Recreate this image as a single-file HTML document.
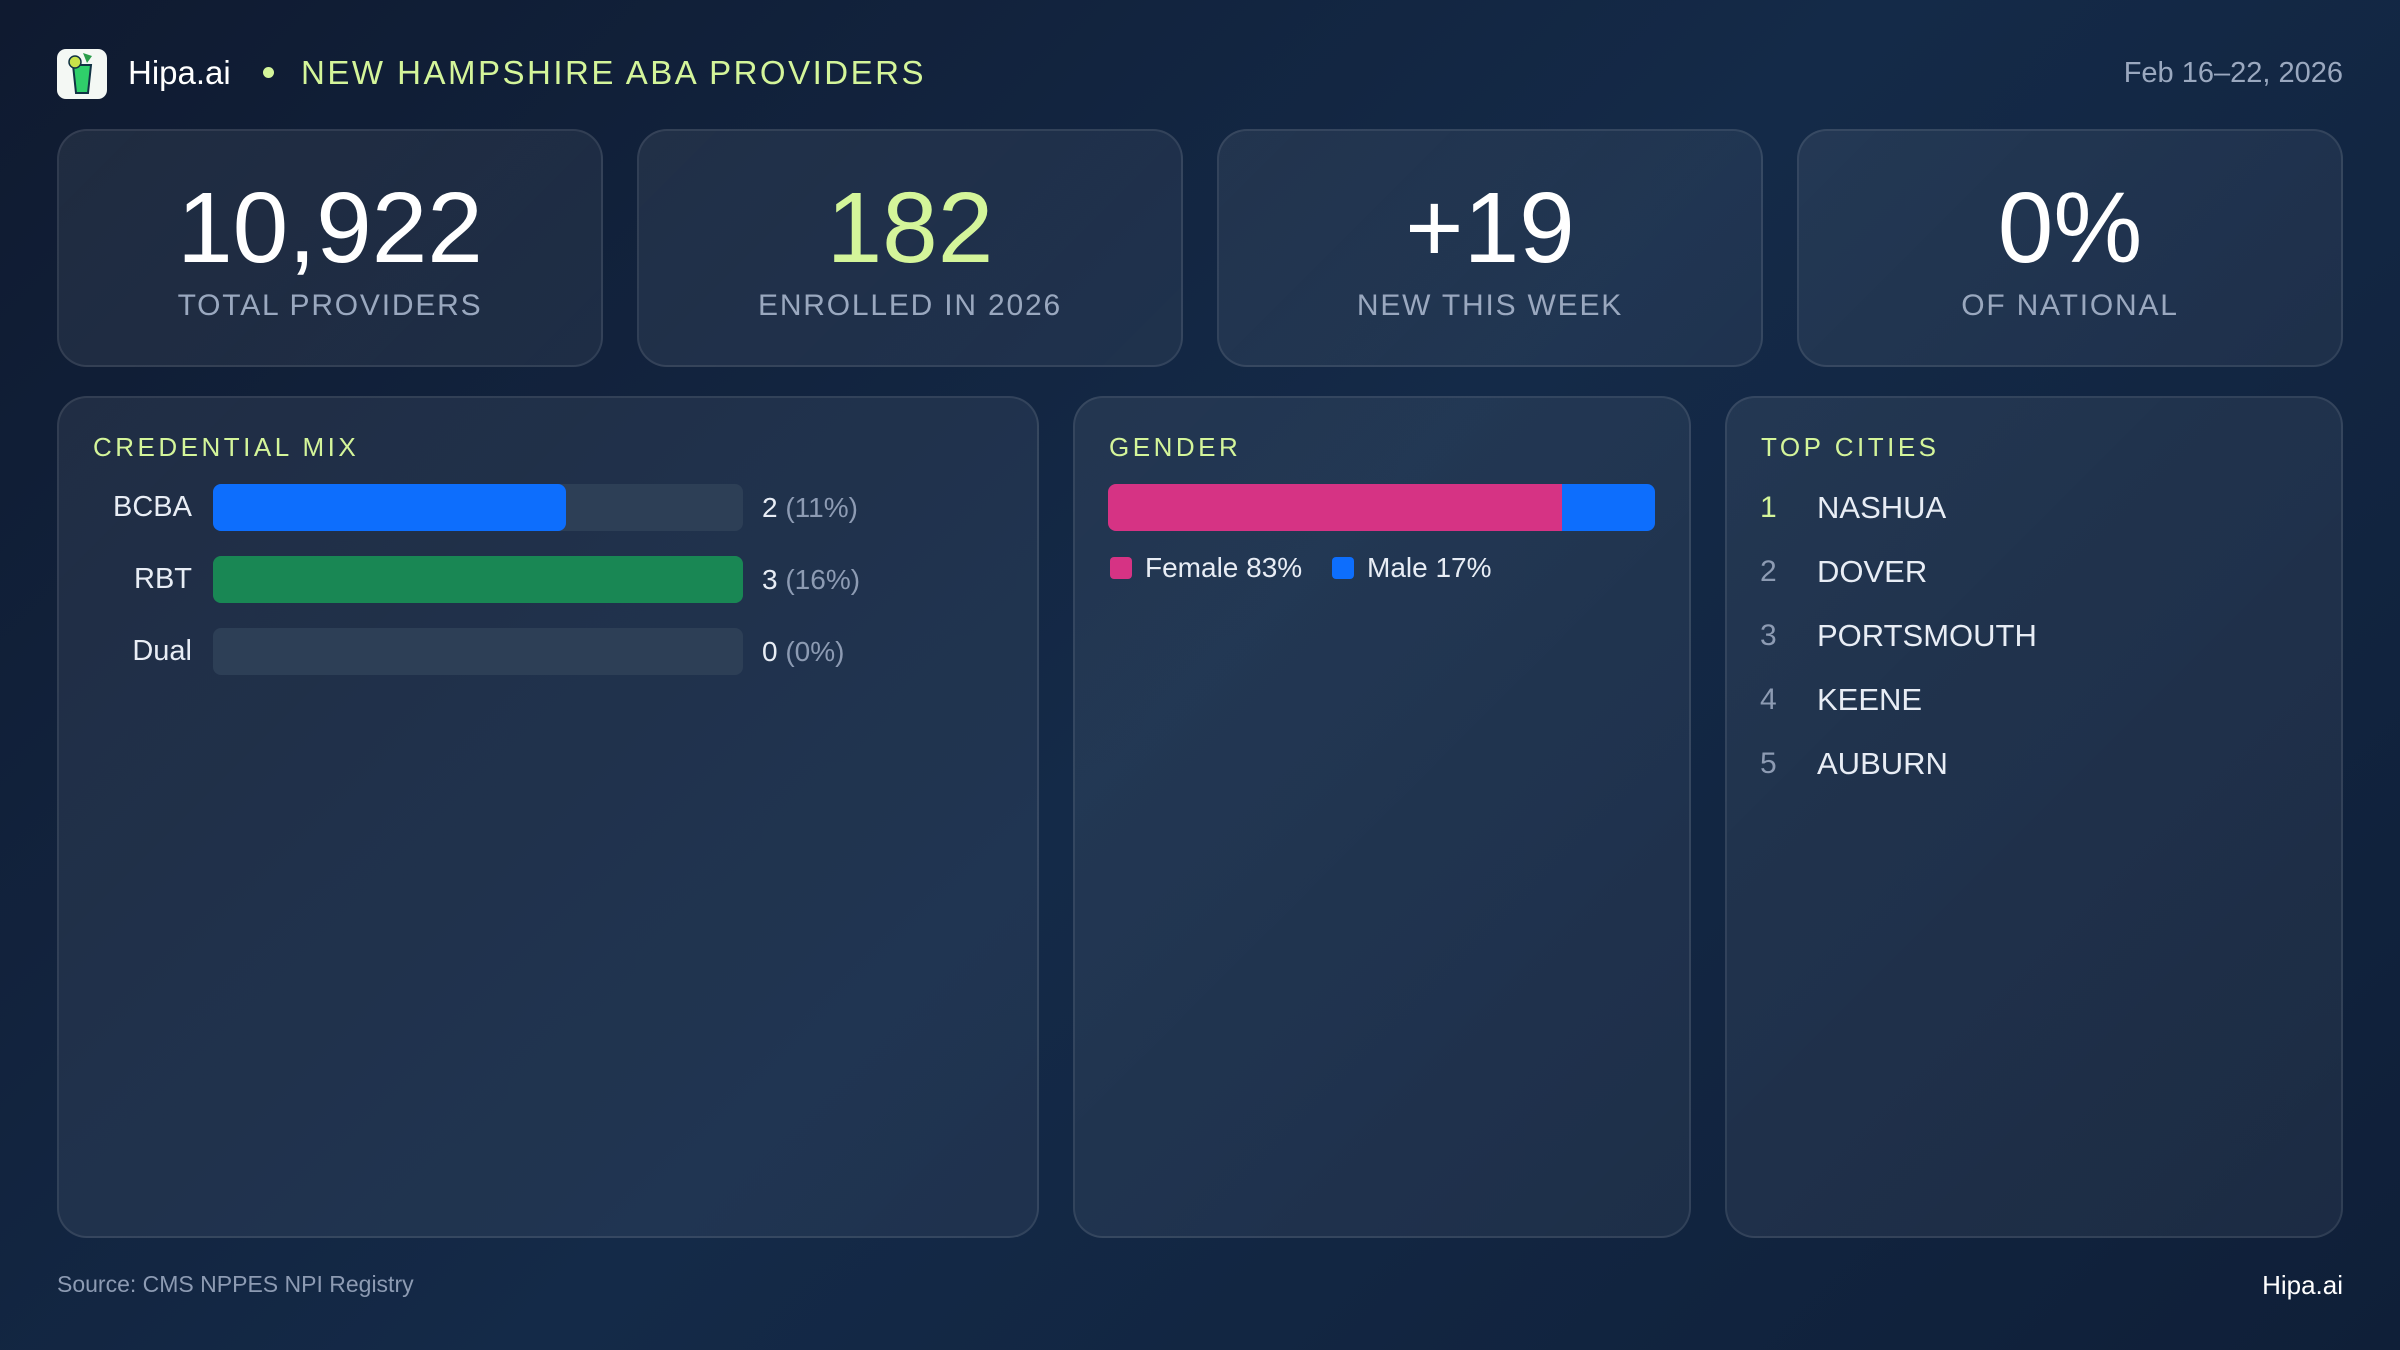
<!DOCTYPE html>
<html><head><meta charset="utf-8">
<style>
*{margin:0;padding:0;box-sizing:border-box}
body{width:2400px;height:1350px;overflow:hidden;font-family:"Liberation Sans",sans-serif;color:#e8edf5;
background:linear-gradient(135deg,#0f1a30 0%,#142a48 50%,#0f1f38 100%);position:relative}
.abs{position:absolute}
.card{position:absolute;background:linear-gradient(135deg,rgba(255,255,255,0.07),rgba(255,255,255,0.05));border:2px solid rgba(255,255,255,0.09);border-radius:30px}
.kpi .num{position:absolute;left:0;right:0;top:42px;text-align:center;font-size:100px;line-height:110px;color:#fff}
.kpi .lbl{position:absolute;left:0;right:0;top:158px;text-align:center;font-size:30px;letter-spacing:1.8px;color:#9aa8bf}
.ptitle{position:absolute;font-size:26px;letter-spacing:3.5px;color:#d4f59a}
.rowlbl{position:absolute;width:120px;text-align:right;font-size:29px;color:#e8edf5}
.val{position:absolute;font-size:28px;color:#e8edf5}
.val span{color:#8d9bb3}
.city{position:absolute;font-size:31px;color:#e8edf5;letter-spacing:0px}
.cn{position:absolute;font-size:30px;color:#8d9bb3}
</style></head><body>
<div class="abs" style="left:57px;top:49px;width:50px;height:50px;border-radius:9px;background:#f4f8f4">
<svg width="50" height="50" viewBox="0 0 50 50"><path d="M16 16h18l-3 28h-12z" fill="#2fcf6a" stroke="#134" stroke-width="2"/><circle cx="18" cy="13" r="6" fill="#c9e34a" stroke="#134" stroke-width="1.5"/><path d="M26 4l4 10 5-7z" fill="#2a9d4a"/></svg></div>
<div class="abs" style="left:128px;top:54px;font-size:33px;color:#fff">Hipa.ai</div>
<div class="abs" style="left:263px;top:67px;width:11px;height:11px;border-radius:50%;background:#d4f59a"></div>
<div class="abs" style="left:301px;top:54px;font-size:33px;letter-spacing:2.5px;color:#d4f59a">NEW HAMPSHIRE ABA PROVIDERS</div>
<div class="abs" style="right:57px;top:57px;font-size:29px;color:#9aa8bf">Feb 16–22, 2026</div>

<div class="card kpi" style="left:57px;top:129px;width:546px;height:238px"><div class="num">10,922</div><div class="lbl">TOTAL PROVIDERS</div></div>
<div class="card kpi" style="left:637px;top:129px;width:546px;height:238px"><div class="num" style="color:#d4f59a">182</div><div class="lbl">ENROLLED IN 2026</div></div>
<div class="card kpi" style="left:1217px;top:129px;width:546px;height:238px"><div class="num">+19</div><div class="lbl">NEW THIS WEEK</div></div>
<div class="card kpi" style="left:1797px;top:129px;width:546px;height:238px"><div class="num">0%</div><div class="lbl">OF NATIONAL</div></div>

<div class="card" style="left:57px;top:396px;width:982px;height:842px"></div>
<div class="card" style="left:1073px;top:396px;width:618px;height:842px"></div>
<div class="card" style="left:1725px;top:396px;width:618px;height:842px"></div>

<div class="ptitle" style="left:93px;top:432px">CREDENTIAL MIX</div>
<div class="ptitle" style="left:1109px;top:432px">GENDER</div>
<div class="ptitle" style="left:1761px;top:432px">TOP CITIES</div>

<div id="cred"></div>
<div id="gender"></div>
<div id="cities"></div>

<div class="abs" style="left:57px;top:1271px;font-size:23px;color:#8d9bb3">Source: CMS NPPES NPI Registry</div>
<div class="abs" style="right:57px;top:1270px;font-size:26px;color:#fff">Hipa.ai</div>

<script>
const credCategories=["BCBA","RBT","Dual"];
const credCounts=[2,3,0];
const credPercents=[11,16,0];
const credColors=["#0d6efd","#198754","#0d6efd"];
const genderLabels=["Female","Male"];
const genderPercents=[83,17];
const cityNames=["NASHUA","DOVER","PORTSMOUTH","KEENE","AUBURN"];

const trackX=213,trackW=530,rowY0=484,rowStep=72,barH=47;
const maxC=Math.max(...credCounts);
function xScale(v){return maxC?v/maxC*trackW:0;}
const cred=document.getElementById('cred');
credCategories.forEach((c,i)=>{
  const y=rowY0+i*rowStep;
  const l=document.createElement('div');l.className='rowlbl';
  
  
  l.style.left='72px';l.style.top=(y+7)+'px';l.textContent=c;cred.appendChild(l);
  const t=document.createElement('div');t.className='abs';
  
  
  t.style.cssText=`left:${trackX}px;top:${y}px;width:${trackW}px;height:${barH}px;border-radius:8px;background:#2d3f56`;cred.appendChild(t);
  const w=xScale(credCounts[i]);
  if(w>0){const b=document.createElement('div');b.className='abs';
  
  
  b.style.cssText=`left:${trackX}px;top:${y}px;width:${w}px;height:${barH}px;border-radius:8px;background:${credColors[i]}`;cred.appendChild(b);}
  const v=document.createElement('div');v.className='val';
  
  
  v.style.left='762px';v.style.top=(y+8)+'px';
  v.innerHTML=credCounts[i]+' <span>('+credPercents[i]+'%)</span>';cred.appendChild(v);
});

const gX=1108,gW=547,gY=484;
const g=document.getElementById('gender');
const gColors=["#d63384","#0d6efd"];
let acc=0;const tot=genderPercents.reduce((a,b)=>a+b,0);
genderPercents.forEach((p,i)=>{
  const s=document.createElement('div');s.className='abs';
  
  
  const x=gX+acc/tot*gW,w=p/tot*gW;acc+=p;
  const r=i===0?'8px 0 0 8px':'0 8px 8px 0';
  s.style.cssText=`left:${x}px;top:${gY}px;width:${w}px;height:${barH}px;border-radius:${r};background:${gColors[i]}`;g.appendChild(s);
});
const legX=[1110,1332];
genderLabels.forEach((n,i)=>{
  const sw=document.createElement('div');sw.className='abs';
  
  
  sw.style.cssText=`left:${legX[i]}px;top:557px;width:22px;height:22px;border-radius:4px;background:${gColors[i]}`;g.appendChild(sw);
  const t=document.createElement('div');t.className='abs';
  
  
  t.style.cssText=`left:${legX[i]+35}px;top:552px;font-size:28px;color:#e8edf5`;
  t.textContent=n+' '+genderPercents[i]+'%';g.appendChild(t);
});

const ci=document.getElementById('cities');
cityNames.forEach((n,i)=>{
  const y=490+i*64;
  const a=document.createElement('div');a.className='cn';
  
  
  a.style.left='1760px';a.style.top=(y+1)+'px';a.textContent=i+1;
  if(i===0)a.style.color='#d4f59a';ci.appendChild(a);
  const b=document.createElement('div');b.className='city';
  
  
  b.style.left='1817px';b.style.top=y+'px';b.textContent=n;ci.appendChild(b);
});
</script>
</body></html>
